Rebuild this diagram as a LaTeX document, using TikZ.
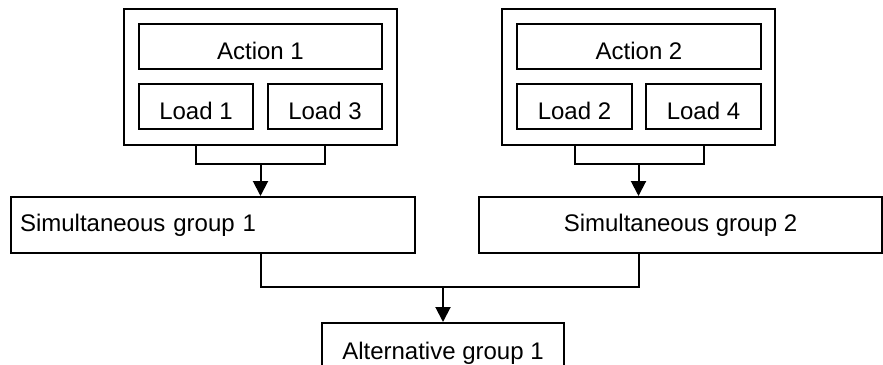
\documentclass[tikz,border=0pt]{standalone}
\usepackage{fontspec}
\setmainfont{Liberation Sans}
\usetikzlibrary{arrows.meta,positioning}
\tikzset{
  box/.style={draw,line width=2pt,inner sep=0pt,font=\fontsize{24}{28}\selectfont},
  itembox/.style={box,minimum height=45pt,text height=25pt,text depth=0pt},
  groupbox/.style={box,minimum height=56pt},
  feed/.style={line width=2pt},
  arr/.style={feed,-{Triangle[width=15pt,length=15pt]}}
}
\begin{document}
\begin{tikzpicture}[x=1pt,y=-1pt]
  \clip (0,0) rectangle (883,364);
  %% action 1 with its loads
  \node[box,minimum width=273pt,minimum height=136pt] (outerA) at (260.5,77) {};
  \node[itembox,minimum width=243pt] (act1) at (260.5,46.5) {Action 1};
  \node[itembox,minimum width=114pt] (load1) at (196,106.5) {Load 1};
  \node[itembox,minimum width=114pt] (load3) at (325,106.5) {Load 3};
  %% action 2 with its loads
  \node[box,minimum width=273pt,minimum height=136pt] (outerB) at (638.5,77) {};
  \node[itembox,minimum width=244pt] (act2) at (639,46.5) {Action 2};
  \node[itembox,minimum width=115pt] (load2) at (574.5,106.5) {Load 2};
  \node[itembox,minimum width=115pt] (load4) at (703.5,106.5) {Load 4};
  %% groups
  \node[groupbox,text width=386pt,inner xsep=9pt,align=left] (sim1) at (213,225) {Simultaneous group 1};
  \node[groupbox,minimum width=403pt] (sim2) at (680.5,225) {Simultaneous group 2};
  \node[groupbox,minimum width=242pt,minimum height=60pt,anchor=north] (alt) at (443,322) {Alternative group 1};
  %% joins
  \coordinate (joinA) at (260.5,164);
  \coordinate (joinB) at (638.5,164);
  \coordinate (joinS) at (443,287);
  \draw[feed] (outerA.south -| load1) |- (joinA) -| (outerA.south -| load3);
  \draw[arr] (joinA) -- (joinA |- sim1.north);
  \draw[feed] (outerB.south -| load2) |- (joinB) -| (outerB.south -| load4);
  \draw[arr] (joinB) -- (joinB |- sim2.north);
  \draw[feed] (sim1.south -| joinA) |- (joinS) -| (sim2.south -| joinB);
  \draw[arr] (joinS) -- (alt.north);
\end{tikzpicture}
\end{document}
